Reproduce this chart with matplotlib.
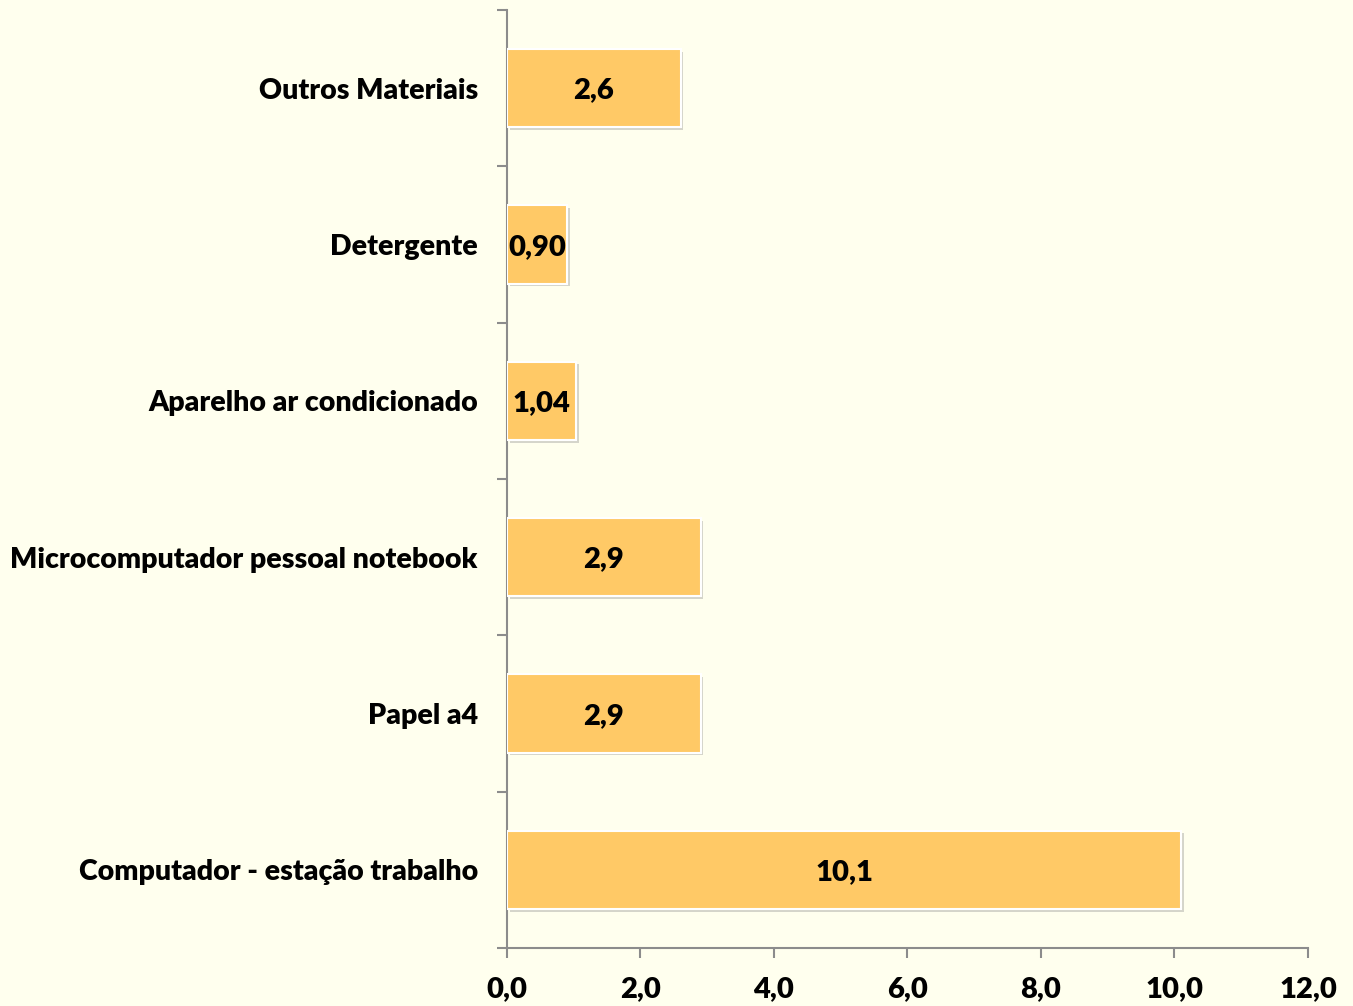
import matplotlib
matplotlib.use("Agg")
import matplotlib.pyplot as plt
import matplotlib.patheffects as pe

# data (bottom to top as drawn)
categorias = ["Computador - estação trabalho", "Papel a4",
              "Microcomputador pessoal notebook", "Aparelho ar condicionado",
              "Detergente", "Outros Materiais"]
valores = [10.1, 2.9, 2.9, 1.04, 0.90, 2.6]
rotulos = ["10,1", "2,9", "2,9", "1,04", "0,90", "2,6"]
xticks = [0, 2, 4, 6, 8, 10, 12]

BG = "#FFFFEE"
BAR = "#FFC966"
AXC = "#8C8C8C"
PESO = "heavy"

plt.rcParams['font.family'] = ['Lato', 'DejaVu Sans']
plt.rcParams['font.weight'] = PESO

fig = plt.figure(figsize=(13.53, 10.06), dpi=100, facecolor=BG)
ax = fig.add_axes([0.3747, 0.0577, 0.5920, 0.9324])
ax.set_facecolor(BG)

ypos = list(range(len(categorias)))
bars = ax.barh(ypos, valores, height=0.5, color=BAR, edgecolor="white",
               linewidth=1.5, zorder=3)
for b in bars:
    b.set_path_effects([pe.SimplePatchShadow(offset=(2, -2), shadow_rgbFace="#777777", alpha=0.3),
                        pe.Normal()])

for y, v, t in zip(ypos, valores, rotulos):
    ax.text(v / 2, y - 0.015, t, ha="center", va="center", fontsize=21,
            fontweight=PESO, color="black", zorder=4)

ax.set_xlim(0, 12)
ax.set_ylim(-0.5, len(categorias) - 0.5)
ax.set_xticks(xticks)
ax.set_xticklabels([f"{x:.1f}".replace(".", ",") for x in xticks], fontweight=PESO)

# category labels on minor positions, ticks at boundaries
ax.set_yticks([y - 0.5 for y in range(len(categorias) + 1)])
ax.set_yticklabels([])
ax.set_yticks(ypos, minor=True)
ax.set_yticklabels(categorias, minor=True, fontweight=PESO)
ax.tick_params(axis="y", which="minor", length=0, pad=21, labelsize=20.5)
ax.tick_params(axis="y", which="major", length=7, width=1.5, color=AXC)
ax.tick_params(axis="x", length=7, width=1.5, color=AXC, pad=13, labelsize=21)

for s in ["top", "right"]:
    ax.spines[s].set_visible(False)
for s in ["left", "bottom"]:
    ax.spines[s].set_color(AXC)
    ax.spines[s].set_linewidth(1.5)

fig.savefig("out.png", dpi=100, facecolor=BG)
